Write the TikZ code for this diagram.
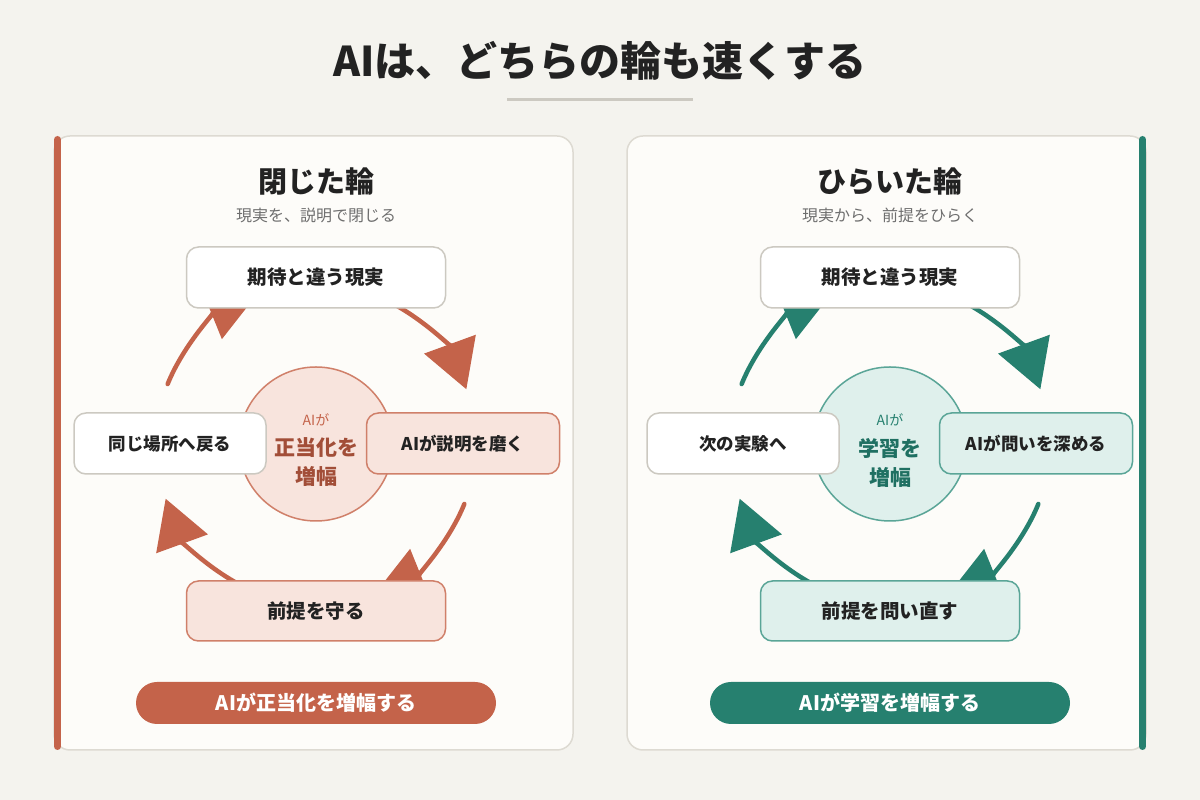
\documentclass[tikz,border=0pt]{standalone}
\usepackage{fontspec}
\setmainfont{Noto Sans CJK JP}
\usetikzlibrary{arrows.meta}

\definecolor{bgcol}{HTML}{F4F3EE}
\definecolor{panelcol}{HTML}{FDFCF9}
\definecolor{panelline}{HTML}{DDDAD2}
\definecolor{inkcol}{HTML}{222222}
\definecolor{subcol}{HTML}{6E6E6E}
\definecolor{boxline}{HTML}{CCC9C1}
\definecolor{closedmain}{HTML}{C4634A}
\definecolor{closedlight}{HTML}{F8E4DD}
\definecolor{closedline}{HTML}{D0806A}
\definecolor{closeddark}{HTML}{A24E38}
\definecolor{openmain}{HTML}{26806F}
\definecolor{openlight}{HTML}{DFF0EC}
\definecolor{openline}{HTML}{5AA597}
\definecolor{opendark}{HTML}{1F7062}

\begin{document}
\begin{tikzpicture}[x=1pt, y=1pt]
                \tikzstyle{panel} = [fill=panelcol, draw=panelline, line width=1.5pt, rounded corners=16pt]
                \tikzstyle{accent} = [draw=#1main, line width=7pt, line cap=round]
                \tikzstyle{boxbase} = [line width=1.5pt, rounded corners=12pt, minimum height=61pt, text=inkcol, font=\fontsize{19.5}{23}\selectfont\bfseries]
                \tikzstyle{plainbox} = [boxbase, draw=boxline, fill=white]
                \tikzstyle{hotbox} = [boxbase, draw=#1line, fill=#1light]
                \tikzstyle{sidetext} = [font=\fontsize{17.5}{21}\selectfont\bfseries]
                \tikzstyle{hub} = [circle, minimum size=154pt, draw=#1line, fill=#1light, line width=1.5pt]
                \tikzstyle{loop} = [draw=#1main, line width=4.5pt, line cap=round, -{Triangle[width=54pt, length=48pt]}]
                \tikzstyle{pill} = [fill=#1main, rounded corners=21pt, minimum width=360pt, minimum height=42pt, text=white, font=\fontsize{20}{24}\selectfont\bfseries]
                \fill[bgcol] (0, 0) rectangle (1200, 800);
                \node[text=inkcol, font=\fontsize{41}{48}\selectfont\bfseries] (head) at (600, 739) {AIは、どちらの輪も速くする};
                \draw[draw=boxline, line width=3pt] (507, 700) -- (693, 700);
                \draw[panel] (54, 50) rectangle (573, 664);
                \draw[panel] (627, 50) rectangle (1146, 664);
                \draw[accent=closed] (57.5, 660.5) -- (57.5, 53.5);
                \draw[accent=open] (1142.5, 660.5) -- (1142.5, 53.5);
                % closed loop
                \node[text=inkcol, font=\fontsize{29}{33}\selectfont\bfseries] (ctitle) at (316, 618) {閉じた輪};
                \node[text=subcol, font=\fontsize{16}{20}\selectfont] (csub) at (316, 585) {現実を、説明で閉じる};
                \node[hub=closed] (chub) at (316, 356) {};
                \draw[loop=closed] ([shift={(158:160pt)}]chub.center) arc[start angle=158, end angle=112, radius=160pt];
                \draw[loop=closed] ([shift={(66:160pt)}]chub.center) arc[start angle=66, end angle=20, radius=160pt];
                \draw[loop=closed] ([shift={(-22:160pt)}]chub.center) arc[start angle=-22, end angle=-68, radius=160pt];
                \draw[loop=closed] ([shift={(-114:160pt)}]chub.center) arc[start angle=-114, end angle=-160, radius=160pt];
                \node[text=closedmain, font=\fontsize{14}{16}\selectfont] (cai) at (316, 380) {AIが};
                \node[text=closeddark, font=\fontsize{21}{29}\selectfont\bfseries, align=center] (cmid) at (316, 337.5) {正当化を\\増幅};
                \node[plainbox, minimum width=259pt] (ctop) at (316, 522.5) {期待と違う現実};
                \node[plainbox, sidetext, minimum width=192pt] (cleft) at (170, 356.5) {同じ場所へ戻る};
                \node[hotbox=closed, sidetext, minimum width=193pt] (cright) at (463, 356.5) {AIが説明を磨く};
                \node[hotbox=closed, minimum width=259pt, minimum height=60pt] (cbot) at (316, 189) {前提を守る};
                \node[pill=closed] (cpill) at (316, 97) {AIが正当化を増幅する};
                % open loop
                \node[text=inkcol, font=\fontsize{29}{33}\selectfont\bfseries] (otitle) at (890, 618) {ひらいた輪};
                \node[text=subcol, font=\fontsize{16}{20}\selectfont] (osub) at (890, 585) {現実から、前提をひらく};
                \node[hub=open] (ohub) at (890, 356) {};
                \draw[loop=open] ([shift={(158:160pt)}]ohub.center) arc[start angle=158, end angle=112, radius=160pt];
                \draw[loop=open] ([shift={(66:160pt)}]ohub.center) arc[start angle=66, end angle=20, radius=160pt];
                \draw[loop=open] ([shift={(-22:160pt)}]ohub.center) arc[start angle=-22, end angle=-68, radius=160pt];
                \draw[loop=open] ([shift={(-114:160pt)}]ohub.center) arc[start angle=-114, end angle=-160, radius=160pt];
                \node[text=openmain, font=\fontsize{14}{16}\selectfont] (oai) at (890, 380) {AIが};
                \node[text=opendark, font=\fontsize{21}{29}\selectfont\bfseries, align=center] (omid) at (890, 337.5) {学習を\\増幅};
                \node[plainbox, minimum width=259pt] (otop) at (890, 522.5) {期待と違う現実};
                \node[plainbox, sidetext, minimum width=192pt] (oleft) at (743, 356.5) {次の実験へ};
                \node[hotbox=open, sidetext, minimum width=193pt] (oright) at (1036, 356.5) {AIが問いを深める};
                \node[hotbox=open, minimum width=259pt, minimum height=60pt] (obot) at (890, 189) {前提を問い直す};
                \node[pill=open] (opill) at (890, 97) {AIが学習を増幅する};
            \end{tikzpicture}
\end{document}
